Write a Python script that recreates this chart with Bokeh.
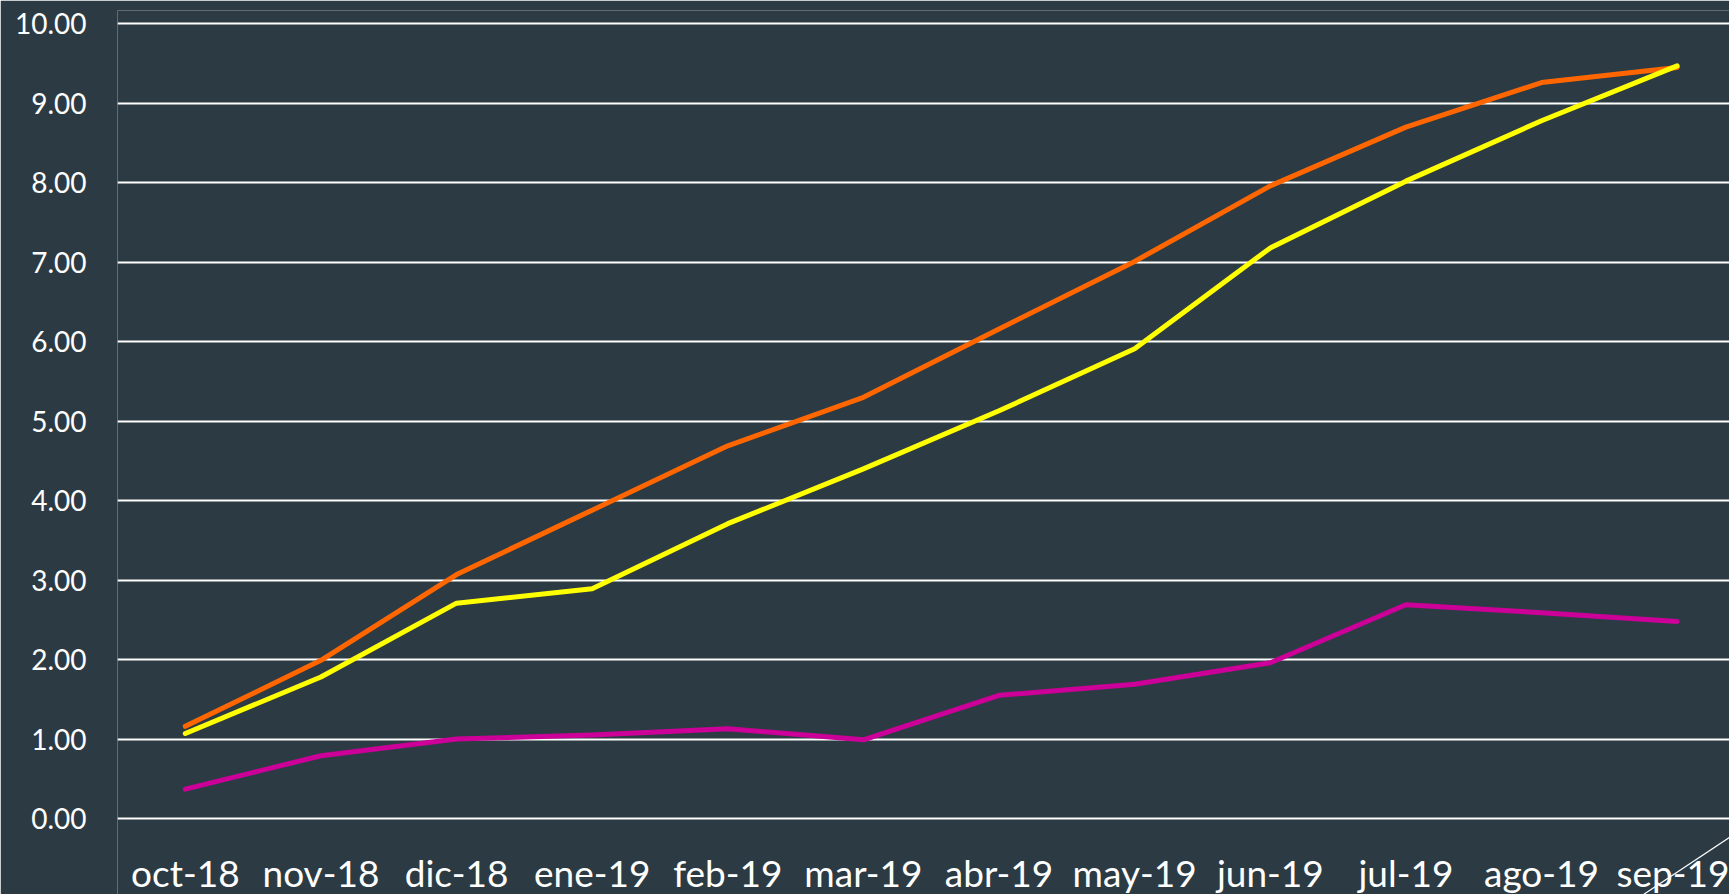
from bokeh.plotting import figure
from bokeh.models import Range1d, FixedTicker, NumeralTickFormatter, Arrow
from bokeh.embed import file_html
from bokeh.resources import INLINE

months = ["oct-18", "nov-18", "dic-18", "ene-19", "feb-19", "mar-19",
          "abr-19", "may-19", "jun-19", "jul-19", "ago-19", "sep-19"]
orange_vals = [1.16, 1.99, 3.07, 3.88, 4.69, 5.30, 6.16, 7.01, 7.96, 8.70, 9.26, 9.45]
yellow_vals = [1.07, 1.78, 2.71, 2.89, 3.71, 4.40, 5.13, 5.91, 7.18, 8.02, 8.78, 9.47]
magenta_vals = [0.37, 0.79, 1.00, 1.05, 1.13, 0.99, 1.55, 1.69, 1.96, 2.69, 2.59, 2.48]
y_ticks = [0, 1, 2, 3, 4, 5, 6, 7, 8, 9, 10]

BG = "#2C3B43"
x_idx = list(range(len(months)))

p = figure(width=1729, height=894, output_backend="svg", toolbar_location=None,
           x_range=Range1d(-0.5, 11.386), y_range=Range1d(-0.956, 10.167),
           background_fill_color=BG, border_fill_color=BG,
           min_border_left=117, min_border_right=0, min_border_top=10,
           min_border_bottom=0)
p.outline_line_color = None

p.line(x_idx, magenta_vals, line_color="#CC0099", line_width=5,
       line_cap="round", line_join="round")
p.line(x_idx, orange_vals, line_color="#FF6600", line_width=5,
       line_cap="round", line_join="round")
p.line(x_idx, yellow_vals, line_color="#FFFF00", line_width=5,
       line_cap="round", line_join="round")

# axes
p.xaxis.ticker = FixedTicker(ticks=x_idx)
p.xaxis.major_label_overrides = {i: m for i, m in enumerate(months)}
p.xaxis.fixed_location = -0.29
p.xaxis.major_label_text_font = "Lato"
p.xaxis.major_label_text_font_size = "37px"
p.xaxis.major_label_text_color = "#FFFFFF"
p.xaxis.major_label_standoff = 8
p.xaxis.axis_line_color = None
p.xaxis.major_tick_line_color = None
p.xaxis.minor_tick_line_color = None
p.xaxis.major_tick_out = 0
p.xaxis.major_tick_in = 0

p.yaxis.ticker = FixedTicker(ticks=y_ticks)
p.yaxis.formatter = NumeralTickFormatter(format="0.00")
p.yaxis.major_label_text_font = "Lato"
p.yaxis.major_label_text_font_size = "28px"
p.yaxis.major_label_text_color = "#FFFFFF"
p.yaxis.major_label_standoff = 31
p.yaxis.axis_line_color = None
p.yaxis.major_tick_line_color = None
p.yaxis.minor_tick_line_color = None
p.yaxis.major_tick_out = 0
p.yaxis.major_tick_in = 0

p.xgrid.grid_line_color = None
p.ygrid.ticker = FixedTicker(ticks=y_ticks)
p.ygrid.grid_line_color = "#FFFFFF"
p.ygrid.grid_line_width = 1.8

# thin decorative corner stroke seen at the bottom-right of the original
p.add_layout(Arrow(end=None, x_start=1643, y_start=894, x_end=1729, y_end=837,
                   start_units="canvas", end_units="canvas",
                   line_color="#FFFFFF", line_width=1.2))

html = file_html(p, INLINE)
html = html.replace("<body>", '<body style="background:%s;">' % BG, 1)
open("out.html", "w").write(html)
